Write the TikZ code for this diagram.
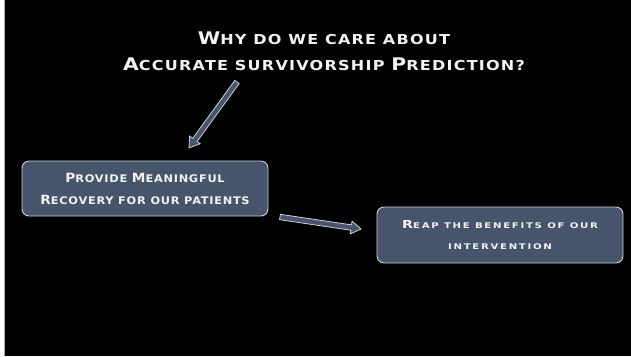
\documentclass[tikz,border=0pt]{standalone}
\usepackage{fontspec}
\setmainfont{DejaVu Sans}
\newfontfamily\titlefont{DejaVu Sans}[FakeStretch=1.17, LetterSpace=9]
\newfontfamily\boxafont{DejaVu Sans}[FakeStretch=1.08, LetterSpace=7]
\newfontfamily\boxbfont{DejaVu Sans}[FakeStretch=1.3, LetterSpace=22]
\usetikzlibrary{calc}
\definecolor{slate}{RGB}{70,84,108}
\definecolor{edge}{RGB}{205,208,212}
\definecolor{txt}{RGB}{242,242,242}
\newcommand\tc[1]{{\fontsize{17.4}{26}\selectfont #1}}
\newcommand\bc[1]{{\fontsize{12.7}{22}\selectfont #1}}
\newcommand\cc[1]{{\fontsize{11}{21}\selectfont #1}}
\tikzset{
  box/.style={draw=edge, line width=0.9pt, fill=slate, rounded corners=7pt,
    text=txt, align=center, minimum width=246pt, inner sep=0pt},
  arrowstyle/.style={draw=edge, line width=0.8pt, fill=slate, line join=miter},
}
\newcommand\blockarrow[2]{%
  \coordinate (hb) at ($(#2)!10pt!(#1)$);
  \filldraw[arrowstyle] ($(#1)!2.7pt!90:(#2)$) -- ($(hb)!2.7pt!-90:(#1)$)
    -- ($(hb)!6.5pt!-90:(#1)$) -- (#2) -- ($(hb)!6.5pt!90:(#1)$)
    -- ($(hb)!2.7pt!90:(#1)$) -- ($(#1)!2.7pt!-90:(#2)$) -- cycle;}
\begin{document}
\begin{tikzpicture}[x=1pt,y=-1pt]
\fill[black] (0,0) rectangle (631,356);
\useasboundingbox (0,0) rectangle (631,356);
\fill[white] (0,0) rectangle (3.5,356);
\draw[gray!70, line width=1pt] (4,0) -- (4,356);
\node[text=txt, align=center, font=\titlefont\bfseries\fontsize{13.7}{26}\selectfont] (title) at (324,51.5)
  {\tc{W}HY DO WE CARE ABOUT\\ \tc{A}CCURATE SURVIVORSHIP \tc{P}REDICTION?};
\node[box, minimum height=55pt, font=\boxafont\bfseries\fontsize{10.5}{22}\selectfont] (b1) at (145,188.5)
  {\bc{P}ROVIDE \bc{M}EANINGFUL\\ \bc{R}ECOVERY FOR OUR PATIENTS};
\node[box, minimum height=56pt, font=\boxbfont\bfseries\fontsize{7.8}{21}\selectfont] (b2) at (500,235)
  {\cc{R}EAP THE BENEFITS OF OUR\\ INTERVENTION};
\coordinate (a1s) at (237,82);
\coordinate (a1e) at (189,148);
\coordinate (a2s) at (280,217);
\coordinate (a2e) at (361,229);
\blockarrow{a1s}{a1e}
\blockarrow{a2s}{a2e}
\end{tikzpicture}
\end{document}
